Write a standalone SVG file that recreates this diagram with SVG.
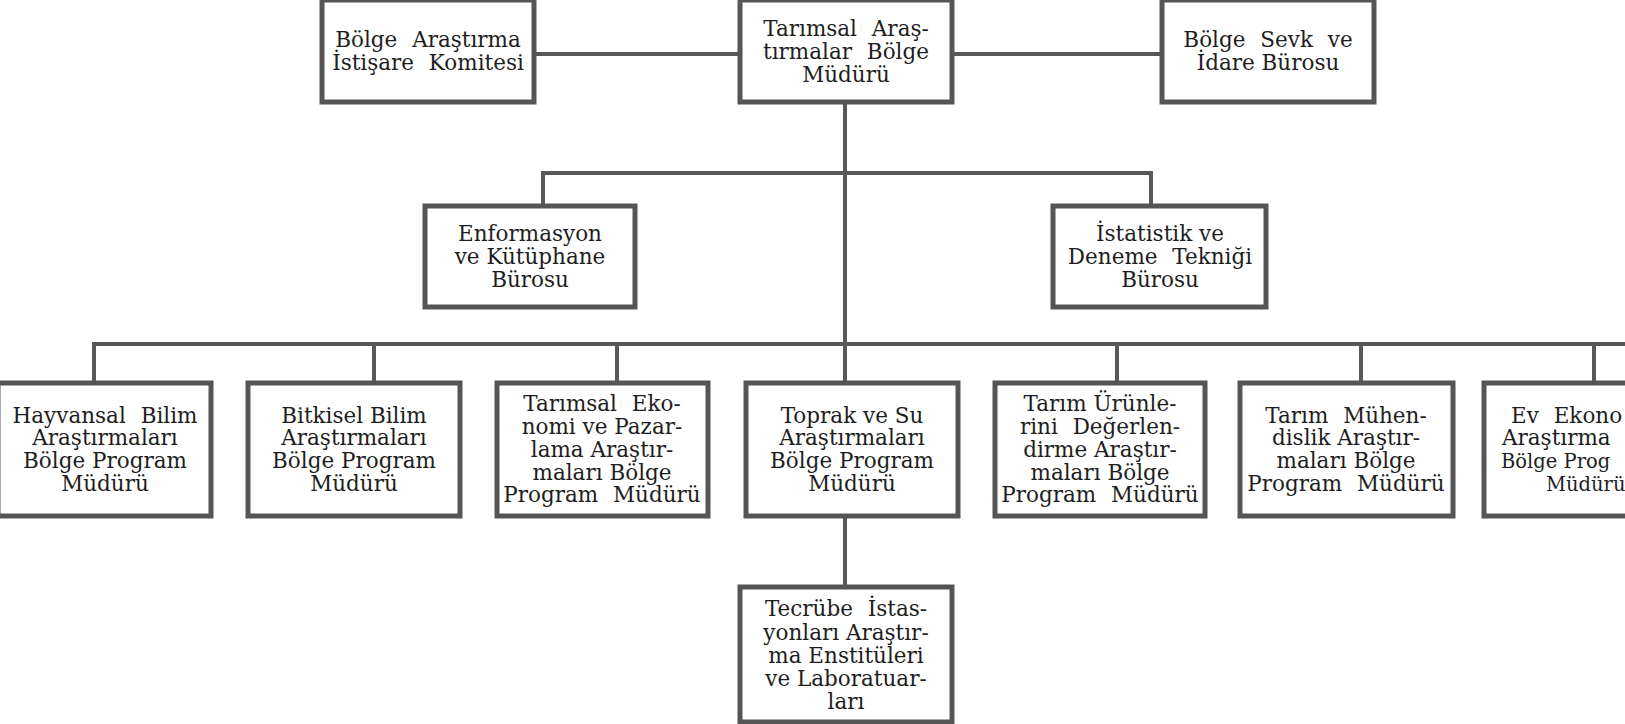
<svg xmlns="http://www.w3.org/2000/svg" width="1625" height="724" viewBox="0 0 1625 724">
<style>
.box{fill:#ffffff;stroke:#555555;stroke-width:5}
.ln{stroke:#585858;stroke-width:4;fill:none}
text{font-family:"DejaVu Serif","Liberation Serif",serif;font-size:21.5px;fill:#1e1e1e;text-anchor:middle}
.st{text-anchor:start}
.ws{word-spacing:8px}
.sm{font-size:19.5px}
</style>
<rect width="1625" height="724" fill="#ffffff"/>
<g id="connectors">
<line class="ln" x1="534" y1="54" x2="740" y2="54"/>
<line class="ln" x1="952" y1="54" x2="1162" y2="54"/>
<line class="ln" x1="845" y1="102" x2="845" y2="383"/>
<line class="ln" x1="543" y1="173" x2="1151" y2="173"/>
<line class="ln" x1="543" y1="171" x2="543" y2="206"/>
<line class="ln" x1="1151" y1="171" x2="1151" y2="206"/>
<line class="ln" x1="94" y1="344" x2="1625" y2="344"/>
<line class="ln" x1="94" y1="342" x2="94" y2="383"/>
<line class="ln" x1="374" y1="344" x2="374" y2="383"/>
<line class="ln" x1="617" y1="344" x2="617" y2="383"/>
<line class="ln" x1="1117" y1="344" x2="1117" y2="383"/>
<line class="ln" x1="1361" y1="344" x2="1361" y2="383"/>
<line class="ln" x1="1594" y1="344" x2="1594" y2="383"/>
<line class="ln" x1="845" y1="516" x2="845" y2="587"/>
</g>
<g id="n-komite">
<rect class="box" x="322" y="0" width="212" height="102"/>
<text class="ws" x="428" y="47">Bölge Araştırma</text>
<text class="ws" x="428" y="70">İstişare Komitesi</text>
</g>
<g id="n-mudur">
<rect class="box" x="740" y="0" width="212" height="102"/>
<text class="ws" x="846" y="36">Tarımsal Araş-</text>
<text class="ws" x="846" y="59">tırmalar Bölge</text>
<text x="846" y="82">Müdürü</text>
</g>
<g id="n-sevk">
<rect class="box" x="1162" y="0" width="212" height="102"/>
<text class="ws" x="1268" y="47">Bölge Sevk ve</text>
<text x="1268" y="70">İdare Bürosu</text>
</g>
<g id="n-enformasyon">
<rect class="box" x="425" y="206" width="210" height="101"/>
<text x="530" y="241">Enformasyon</text>
<text x="530" y="264">ve Kütüphane</text>
<text x="530" y="287">Bürosu</text>
</g>
<g id="n-istatistik">
<rect class="box" x="1053" y="206" width="213" height="101"/>
<text x="1160" y="241">İstatistik ve</text>
<text class="ws" x="1160" y="264">Deneme Tekniği</text>
<text x="1160" y="287">Bürosu</text>
</g>
<g id="n-hayvansal">
<rect class="box" x="-2" y="383" width="213" height="133"/>
<text class="ws" x="105" y="423">Hayvansal Bilim</text>
<text x="105" y="445">Araştırmaları</text>
<text x="105" y="468">Bölge Program</text>
<text x="105" y="491">Müdürü</text>
</g>
<g id="n-bitkisel">
<rect class="box" x="248" y="383" width="212" height="133"/>
<text x="354" y="423">Bitkisel Bilim</text>
<text x="354" y="445">Araştırmaları</text>
<text x="354" y="468">Bölge Program</text>
<text x="354" y="491">Müdürü</text>
</g>
<g id="n-ekonomi">
<rect class="box" x="497" y="383" width="211" height="133"/>
<text class="ws" x="602" y="411">Tarımsal Eko-</text>
<text x="602" y="434">nomi ve Pazar-</text>
<text x="602" y="457">lama Araştır-</text>
<text x="602" y="480">maları Bölge</text>
<text class="ws" x="602" y="502">Program Müdürü</text>
</g>
<g id="n-toprak">
<rect class="box" x="746" y="383" width="212" height="133"/>
<text x="852" y="423">Toprak ve Su</text>
<text x="852" y="445">Araştırmaları</text>
<text x="852" y="468">Bölge Program</text>
<text x="852" y="491">Müdürü</text>
</g>
<g id="n-urunler">
<rect class="box" x="995" y="383" width="210" height="133"/>
<text x="1100" y="411">Tarım Ürünle-</text>
<text class="ws" x="1100" y="434">rini Değerlen-</text>
<text x="1100" y="457">dirme Araştır-</text>
<text x="1100" y="480">maları Bölge</text>
<text class="ws" x="1100" y="502">Program Müdürü</text>
</g>
<g id="n-muhendislik">
<rect class="box" x="1240" y="383" width="213" height="133"/>
<text class="ws" x="1346" y="423">Tarım Mühen-</text>
<text x="1346" y="445">dislik Araştır-</text>
<text x="1346" y="468">maları Bölge</text>
<text class="ws" x="1346" y="491">Program Müdürü</text>
</g>
<g id="n-ev">
<path class="box" d="M1625 383 H1484 V516 H1625"/>
<text class="st ws" x="1511" y="423">Ev Ekono</text>
<text class="st" x="1502" y="445">Araştırma</text>
<text class="st sm" x="1501" y="468">Bölge Prog</text>
<text class="st sm" x="1546" y="491">Müdürü</text>
</g>
<g id="n-tecrube">
<rect class="box" x="740" y="587" width="212" height="135"/>
<text class="ws" x="846" y="616">Tecrübe İstas-</text>
<text x="846" y="640">yonları Araştır-</text>
<text x="846" y="663">ma Enstitüleri</text>
<text x="846" y="686">ve Laboratuar-</text>
<text x="846" y="709">ları</text>
</g>
</svg>
